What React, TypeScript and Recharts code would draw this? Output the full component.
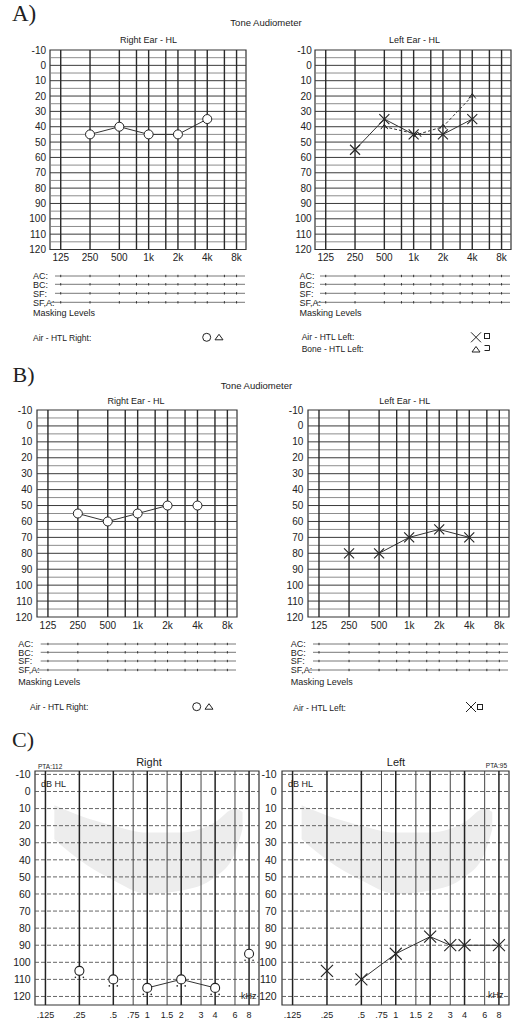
import React from 'react';
import { ComposedChart, Line, Area, XAxis, YAxis, ReferenceLine, ReferenceArea } from 'recharts';

const FONT = '"Liberation Sans", Arial, sans-serif';
const NARROW = '"Liberation Sans Narrow", "Liberation Sans", Arial, sans-serif';
const SERIF = '"Liberation Serif", "Times New Roman", serif';
const INK = '#222';

// ---------------- data ----------------
const AB_LABEL_FREQS = [125, 250, 500, 1000, 2000, 4000, 8000];
const AB_LABELS = ['125', '250', '500', '1k', '2k', '4k', '8k'];
const GRID_FREQS = [125, 250, 500, 750, 1000, 1500, 2000, 3000, 4000, 6000, 8000];
const AB_DB_TICKS = [-10, 0, 10, 20, 30, 40, 50, 60, 70, 80, 90, 100, 110, 120];
const AB_DB_MAJOR = [0, 10, 20, 30, 40, 50, 60, 70, 80, 90, 100, 110];
const AB_DB_MINOR = [-5, 5, 15, 25, 35, 45, 55, 65, 75, 85, 95, 105, 115];

// Panel A
const A_FREQS = [250, 500, 1000, 2000, 4000];
const A_RIGHT_AIR = [45, 40, 45, 45, 35];
const A_LEFT_AIR = [55, 35, 45, 45, 35];
const A_LEFT_BONE_FREQS = [500, 1100, 2000, 4000];
const A_LEFT_BONE = [40, 45, 40, 20];

// Panel B
const B_FREQS = [250, 500, 1000, 2000, 4000];
const B_RIGHT_AIR = [55, 60, 55, 50, 50];
const B_RIGHT_JOINED = [true, true, true, true, false];
const B_LEFT_AIR = [80, 80, 70, 65, 70];

// Panel C
const C_LABELS = ['.125', '.25', '.5', '.75', '1', '1.5', '2', '3', '4', '6', '8'];
const C_DB_TICKS = [-10, 0, 10, 20, 30, 40, 50, 60, 70, 80, 90, 100, 110, 120];
const C_RIGHT_FREQS = [250, 500, 1000, 2000, 4000, 8000];
const C_RIGHT_AIR = [105, 110, 115, 110, 115, 95];
const C_RIGHT_JOINED = [false, false, true, true, true, false];
const C_LEFT_FREQS = [250, 500, 1000, 2000, 3000, 4000, 8000];
const C_LEFT_AIR = [105, 110, 95, 85, 90, 90, 90];
const C_LEFT_JOINED = [false, true, true, true, true, true, true];
const BANANA_FREQS = [150, 250, 500, 1000, 2000, 4000, 6000, 7000];
const BANANA_TOP = [8, 14, 20, 24, 24, 18, 10, 12];
const BANANA_BOTTOM = [28, 40, 52, 60, 58, 50, 36, 22];

const MASK_LABELS = ['AC:', 'BC:', 'SF:', 'SF,A:'];

// ---------------- helpers ----------------
type Pt = { f: number; v: number };
const pts = (freqs: number[], vals: number[]): Pt[] => freqs.map((f, i) => ({ f, v: vals[i] }));
const joined = (freqs: number[], vals: number[], flags: boolean[]): Pt[] =>
  pts(freqs, vals).filter((_, i) => flags[i]);

type Marker = 'circle' | 'cross' | 'caret' | 'circleDots';

function makeDot(kind: Marker, s: number) {
  return (p: any) => {
    const { cx, cy, index } = p;
    const k = `m${kind}${index}`;
    if (cx == null || cy == null) return <g key={k} />;
    if (kind === 'circle')
      return <circle key={k} cx={cx} cy={cy} r={s} fill="#fff" stroke={INK} strokeWidth={1} />;
    if (kind === 'circleDots')
      return (
        <g key={k}>
          <circle cx={cx} cy={cy} r={s} fill="#fff" stroke={INK} strokeWidth={1.1} />
          <circle cx={cx - s + 0.5} cy={cy + s + 2} r={0.8} fill={INK} />
          <circle cx={cx + s - 0.5} cy={cy + s + 2} r={0.8} fill={INK} />
        </g>
      );
    if (kind === 'cross')
      return (
        <g key={k} stroke={INK} strokeWidth={1.1}>
          <line x1={cx - s} y1={cy - s} x2={cx + s} y2={cy + s} />
          <line x1={cx - s} y1={cy + s} x2={cx + s} y2={cy - s} />
        </g>
      );
    return (
      <polyline key={k} points={`${cx - s},${cy + s * 0.7} ${cx},${cy - s * 0.7} ${cx + s},${cy + s * 0.7}`}
        fill="none" stroke={INK} strokeWidth={1} />
    );
  };
}

interface SeriesDef {
  id: string;
  marks: Pt[];
  path: Pt[];
  marker: Marker;
  size: number;
  dash?: string;
}

interface AudioProps {
  kind: 'ab' | 'c';
  plotLeft: number;
  plotTop: number;
  plotW: number;
  plotH: number;
  yw: number;
  xDomain: [number, number];
  yDomain: [number, number];
  xLabels: string[];
  xTicks: number[];
  xFont: number;
  xMargin: number;
  yFont: number;
  yMargin: number;
  series: SeriesDef[];
  banana?: boolean;
}

function Audiogram(props: AudioProps) {
  const { kind, plotLeft, plotTop, plotW, plotH, yw, xDomain, yDomain, series } = props;
  const mt = 5, mr = 5, xh = 22;
  const width = yw + plotW + mr;
  const height = mt + plotH + xh;
  const labelMap: Record<number, string> = {};
  props.xTicks.forEach((f, i) => (labelMap[f] = props.xLabels[i]));
  const bananaData = BANANA_FREQS.map((f, i) => ({ f, range: [BANANA_TOP[i], BANANA_BOTTOM[i]] }));
  const yTicks = kind === 'ab' ? AB_DB_TICKS : C_DB_TICKS;
  return (
    <div style={{ position: 'absolute', left: plotLeft - yw, top: plotTop - mt, width, height }}>
      <ComposedChart width={width} height={height} margin={{ top: mt, right: mr, bottom: 0, left: 0 }}>
        <XAxis dataKey="f" type="number" scale="log" domain={xDomain} allowDataOverflow
          ticks={props.xTicks} interval={0} tickFormatter={(v: number) => labelMap[v] ?? ''}
          axisLine={false} tickLine={false} tickSize={0} tickMargin={props.xMargin} height={xh}
          tick={{ fontSize: props.xFont, fill: INK, fontFamily: kind === 'ab' ? NARROW : FONT }} />
        <YAxis type="number" domain={yDomain} reversed allowDataOverflow ticks={yTicks} interval={0}
          axisLine={false} tickLine={false} tickSize={0} tickMargin={props.yMargin} width={yw}
          tick={{ fontSize: props.yFont, fill: INK, fontFamily: kind === 'ab' ? NARROW : FONT }} />
        {props.banana && (
          <Area data={bananaData} dataKey="range" type="monotone" stroke="none" fill="#ededed"
            fillOpacity={1} isAnimationActive={false} dot={false} activeDot={false} />
        )}
        {kind === 'ab' &&
          AB_DB_MINOR.map((d) => (
            <ReferenceLine key={`hn${d}`} y={d} stroke="#808080" strokeWidth={0.9} />
          ))}
        {kind === 'ab' &&
          AB_DB_MAJOR.map((d) => <ReferenceLine key={`hm${d}`} y={d} stroke="#3a3a3a" strokeWidth={1} />)}
        {kind === 'c' &&
          C_DB_TICKS.map((d) => (
            <ReferenceLine key={`hc${d}`} y={d} stroke="#555" strokeWidth={0.9} strokeDasharray="4 2" />
          ))}
        {GRID_FREQS.map((f) => {
          const major = AB_LABEL_FREQS.includes(f);
          return (
            <ReferenceLine key={`v${f}`} x={f} stroke={kind === 'ab' ? '#2a2a2a' : major ? '#222' : '#444'}
              strokeWidth={kind === 'ab' ? 1.4 : major ? 1.5 : 1} />
          );
        })}
        <ReferenceArea x1={xDomain[0]} x2={xDomain[1]} y1={yDomain[0]} y2={yDomain[1]}
          fill="none" fillOpacity={0} stroke="#333" strokeWidth={1.2} ifOverflow="visible" />
        {series.map((s) => (
          <Line key={`p${s.id}`} data={s.path} dataKey="v" type="linear" stroke="#333" strokeWidth={1}
            strokeDasharray={s.dash} dot={false} activeDot={false} isAnimationActive={false} />
        ))}
        {series.map((s) => (
          <Line key={`k${s.id}`} data={s.marks} dataKey="v" type="linear" stroke="none"
            dot={makeDot(s.marker, s.size)} activeDot={false} isAnimationActive={false} />
        ))}
      </ComposedChart>
    </div>
  );
}

const AB_DOM: [number, number] = [97, 10000];
const C_DOM: [number, number] = [101, 9800];

const xAt = (f: number, left: number, w: number, dom: [number, number]) =>
  left + (w * Math.log(f / dom[0])) / Math.log(dom[1] / dom[0]);

function MaskRows(p: { labelX: number; x1: number; x2: number; ys: number[]; maskY: number; plotLeft: number; plotW: number }) {
  return (
    <g>
      {MASK_LABELS.map((t, i) => (
        <text key={t} x={p.labelX} y={p.ys[i] + 3.3} fontSize={9} fontFamily={FONT} fill={INK}>{t}</text>
      ))}
      {MASK_LABELS.map((t, i) => (
        <line key={`l${t}`} x1={i === 3 ? p.x1 - 4 : p.x1} x2={p.x2} y1={p.ys[i]} y2={p.ys[i]} stroke="#555" strokeWidth={0.8} />
      ))}
      {MASK_LABELS.map((t, i) =>
        GRID_FREQS.map((f) => {
          const x = xAt(f, p.plotLeft, p.plotW, AB_DOM);
          return <line key={`t${t}${f}`} x1={x} x2={x} y1={p.ys[i] - 1.2} y2={p.ys[i] + 1.2} stroke="#333" strokeWidth={1} />;
        })
      )}
      <text x={p.labelX} y={p.maskY + 3.3} fontSize={9} fontFamily={FONT} fill={INK}>Masking Levels</text>
    </g>
  );
}

const Circ = ({ x, y }: { x: number; y: number }) => <circle cx={x} cy={y} r={4} fill="none" stroke={INK} strokeWidth={1} />;
const Tri = ({ x, y }: { x: number; y: number }) => (
  <polygon points={`${x - 4},${y + 2.5} ${x + 4},${y + 2.5} ${x},${y - 3}`} fill="none" stroke={INK} strokeWidth={1} />
);
const Cross = ({ x, y }: { x: number; y: number }) => (
  <g stroke={INK} strokeWidth={1}>
    <line x1={x - 5} y1={y - 5} x2={x + 5} y2={y + 5} />
    <line x1={x - 5} y1={y + 5} x2={x + 5} y2={y - 5} />
  </g>
);
const Sq = ({ x, y }: { x: number; y: number }) => <rect x={x - 2.5} y={y - 2.5} width={5} height={5} fill="none" stroke={INK} strokeWidth={1} />;
const Bracket = ({ x, y }: { x: number; y: number }) => (
  <polyline points={`${x - 2.5},${y - 2.5} ${x + 2.5},${y - 2.5} ${x + 2.5},${y + 2.5} ${x - 2.5},${y + 2.5}`} fill="none" stroke={INK} strokeWidth={1} />
);

function T(p: { x: number; y: number; s: number; a?: 'start' | 'middle' | 'end'; f?: string; children: React.ReactNode }) {
  return (
    <text x={p.x} y={p.y} fontSize={p.s} textAnchor={p.a ?? 'start'} fontFamily={p.f ?? FONT} fill={INK}>
      {p.children}
    </text>
  );
}

export default function App() {
  const abCommon = {
    kind: 'ab' as const,
    xDomain: AB_DOM,
    yDomain: [-10, 120] as [number, number],
    xLabels: AB_LABELS,
    xTicks: AB_LABEL_FREQS,
    xFont: 10,
    xMargin: 4.5,
    yFont: 10,
  };
  const cCommon = {
    kind: 'c' as const,
    xDomain: C_DOM,
    yDomain: [-12, 125] as [number, number],
    xLabels: C_LABELS,
    xTicks: GRID_FREQS,
    xFont: 9,
    xMargin: 6.8,
    yFont: 10.5,
    banana: true,
  };
  return (
    <div style={{ position: 'absolute', left: 0, top: 0, width: 520, height: 1025, background: '#fff', overflow: 'hidden' }}>
      {/* Panel A */}
      <Audiogram {...abCommon} plotLeft={50} plotTop={49.5} plotW={196} plotH={199.5} yw={40} yMargin={4}
        series={[{ id: 'ar', marks: pts(A_FREQS, A_RIGHT_AIR), path: pts(A_FREQS, A_RIGHT_AIR), marker: 'circle', size: 4.5 }]} />
      <Audiogram {...abCommon} plotLeft={315} plotTop={49.5} plotW={196} plotH={199.5} yw={40} yMargin={3.3}
        series={[
          { id: 'alb', marks: pts(A_LEFT_BONE_FREQS, A_LEFT_BONE), path: pts(A_LEFT_BONE_FREQS, A_LEFT_BONE), marker: 'caret', size: 3.5, dash: '3 2' },
          { id: 'ala', marks: pts(A_FREQS, A_LEFT_AIR), path: pts(A_FREQS, A_LEFT_AIR), marker: 'cross', size: 5 },
        ]} />
      {/* Panel B */}
      <Audiogram {...abCommon} plotLeft={37} plotTop={410} plotW={200} plotH={207} yw={35} yMargin={4.7}
        series={[{ id: 'br', marks: pts(B_FREQS, B_RIGHT_AIR), path: joined(B_FREQS, B_RIGHT_AIR, B_RIGHT_JOINED), marker: 'circle', size: 4.5 }]} />
      <Audiogram {...abCommon} plotLeft={308} plotTop={410} plotW={201} plotH={207} yw={40} yMargin={4.7}
        series={[{ id: 'bl', marks: pts(B_FREQS, B_LEFT_AIR), path: pts(B_FREQS, B_LEFT_AIR), marker: 'cross', size: 5 }]} />
      {/* Panel C */}
      <Audiogram {...cCommon} plotLeft={35} plotTop={771} plotW={224} plotH={234} yw={35} yMargin={4.3}
        series={[{ id: 'cr', marks: pts(C_RIGHT_FREQS, C_RIGHT_AIR), path: joined(C_RIGHT_FREQS, C_RIGHT_AIR, C_RIGHT_JOINED), marker: 'circleDots', size: 4.5 }]} />
      <Audiogram {...cCommon} plotLeft={282} plotTop={771} plotW={227} plotH={234} yw={40} yMargin={5.3}
        series={[{ id: 'cl', marks: pts(C_LEFT_FREQS, C_LEFT_AIR), path: joined(C_LEFT_FREQS, C_LEFT_AIR, C_LEFT_JOINED), marker: 'cross', size: 6 }]} />

      <svg width={520} height={1025} style={{ position: 'absolute', left: 0, top: 0, pointerEvents: 'none' }}>
        {/* A */}
        <T x={12} y={21} s={23} f={SERIF}>A)</T>
        <T x={266} y={26} s={9.5} a="middle">Tone Audiometer</T>
        <T x={148.5} y={43} s={9} a="middle">Right Ear - HL</T>
        <T x={414.5} y={43} s={9} a="middle">Left Ear - HL</T>
        <MaskRows labelX={33} x1={55} x2={245} ys={[276, 284.3, 293.3, 302.3]} maskY={312.3} plotLeft={50} plotW={196} />
        <MaskRows labelX={299.5} x1={320} x2={510} ys={[276, 284.3, 293.3, 302.3]} maskY={312.3} plotLeft={315} plotW={196} />
        <T x={33} y={340.5} s={8.5}>Air - HTL Right:</T>
        <Circ x={206.7} y={337.3} />
        <Tri x={219} y={337.3} />
        <T x={301.7} y={340} s={8.5}>Air - HTL Left:</T>
        <T x={301.7} y={351.5} s={8.5}>Bone - HTL Left:</T>
        <Cross x={476} y={337.3} />
        <Sq x={487} y={336} />
        <Tri x={476} y={349.5} />
        <Bracket x={487} y={348} />
        {/* B */}
        <T x={12.5} y={381.7} s={22} f={SERIF}>B)</T>
        <T x={256.5} y={388.5} s={9.5} a="middle">Tone Audiometer</T>
        <T x={136} y={404} s={9} a="middle">Right Ear - HL</T>
        <T x={404.7} y={404} s={9} a="middle">Left Ear - HL</T>
        <MaskRows labelX={18.3} x1={40.7} x2={236} ys={[644, 652.3, 661, 670]} maskY={681.7} plotLeft={37} plotW={200} />
        <MaskRows labelX={290.7} x1={313} x2={508} ys={[644, 652.3, 661, 670]} maskY={681.7} plotLeft={308} plotW={201} />
        <T x={30} y={710} s={8.5}>Air - HTL Right:</T>
        <Circ x={196.7} y={706.7} />
        <Tri x={209} y={706.7} />
        <T x={293.3} y={710.5} s={8.5}>Air - HTL Left:</T>
        <Cross x={471} y={707} />
        <Sq x={480} y={707} />
        {/* C */}
        <T x={12} y={746.5} s={22} f={SERIF}>C)</T>
        <T x={149} y={766} s={11} a="middle">Right</T>
        <T x={396} y={766} s={11} a="middle">Left</T>
        <T x={38} y={769} s={6.5} f={NARROW}>PTA:112</T>
        <T x={507} y={768} s={6.5} a="end" f={NARROW}>PTA:95</T>
        <T x={41} y={786.5} s={9}>dB HL</T>
        <T x={288} y={786.5} s={9}>dB HL</T>
        <T x={241} y={999} s={9}>kHz</T>
        <T x={488} y={998} s={9}>kHz</T>
      </svg>
    </div>
  );
}
